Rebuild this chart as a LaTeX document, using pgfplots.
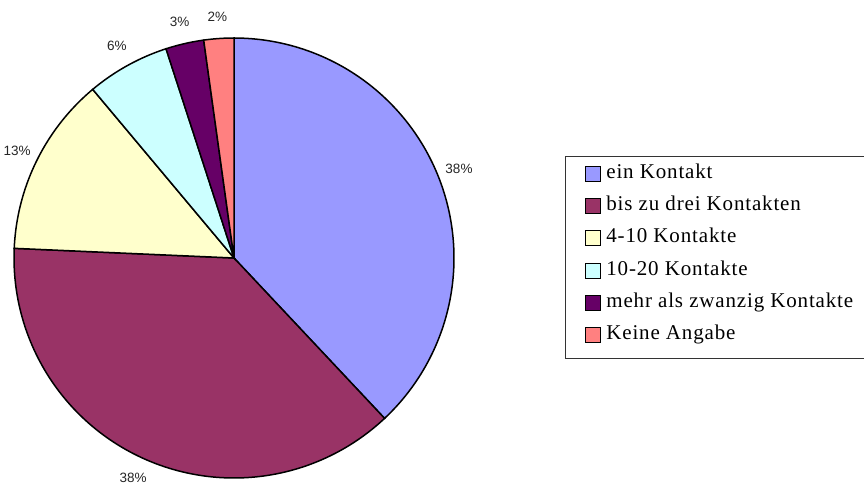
\documentclass[border=0pt]{standalone}
\usepackage{pgfplots}
\pgfplotsset{compat=1.18}
\usepackage{fontspec}
\setmainfont{Liberation Serif}
\newfontfamily\arialfont{Liberation Sans}
\newfontfamily\legfont[LetterSpace=4]{Liberation Serif}
\definecolor{cA}{HTML}{9999FF}
\definecolor{cB}{HTML}{993366}
\definecolor{cC}{HTML}{FFFFCC}
\definecolor{cD}{HTML}{CCFFFF}
\definecolor{cE}{HTML}{660066}
\definecolor{cF}{HTML}{FF8080}
% shares in percent
\def\vA{38.0}\def\vB{37.7}\def\vC{13.2}\def\vD{6.1}\def\vE{2.8}\def\vF{2.2}
\pgfmathsetmacro{\aA}{90}
\pgfmathsetmacro{\aB}{\aA-3.6*\vA}
\pgfmathsetmacro{\aC}{\aB-3.6*\vB}
\pgfmathsetmacro{\aD}{\aC-3.6*\vC}
\pgfmathsetmacro{\aE}{\aD-3.6*\vD}
\pgfmathsetmacro{\aF}{\aE-3.6*\vE}
\pgfmathsetmacro{\aG}{\aF-3.6*\vF}
\pgfmathsetmacro{\mA}{(\aA+\aB)/2}
\pgfmathsetmacro{\mB}{(\aB+\aC)/2}
\pgfmathsetmacro{\mC}{(\aC+\aD)/2}
\pgfmathsetmacro{\mD}{(\aD+\aE)/2}
\pgfmathsetmacro{\mE}{(\aE+\aF)/2}
\pgfmathsetmacro{\mF}{(\aF+\aG)/2}
\def\cx{234}\def\cy{230}\def\R{220}\def\RL{242}
\begin{document}
\begin{tikzpicture}
\begin{axis}[
  width=864pt, height=488pt, scale only axis,
  xmin=0, xmax=864, ymin=0, ymax=488,
  hide axis, clip=false,
  legend image code/.code={\draw[#1, line width=1.2pt] (0pt,-7.5pt) rectangle (15pt,7.5pt);},
  legend style={at={(axis cs:582,327)}, anchor=north west, draw=none, fill=none,
    font=\legfont\fontsize{21}{21}\selectfont,
    row sep=11.3pt, cells={anchor=west},
    nodes={inner sep=1pt, text height=14pt, text depth=5pt},
    /tikz/every odd column/.append style={column sep=4pt}},
]
\addplot[fill=cA, draw=black, line width=1.5pt, domain=\aB:\aA, samples=120, variable=\t]
  ({\cx+\R*cos(\t)},{\cy+\R*sin(\t)}) -- (axis cs:\cx,\cy) -- cycle;
\addlegendentry{ein Kontakt}
\addplot[fill=cB, draw=black, line width=1.5pt, domain=\aC:\aB, samples=120, variable=\t]
  ({\cx+\R*cos(\t)},{\cy+\R*sin(\t)}) -- (axis cs:\cx,\cy) -- cycle;
\addlegendentry{bis zu drei Kontakten}
\addplot[fill=cC, draw=black, line width=1.5pt, domain=\aD:\aC, samples=60, variable=\t]
  ({\cx+\R*cos(\t)},{\cy+\R*sin(\t)}) -- (axis cs:\cx,\cy) -- cycle;
\addlegendentry{4-10 Kontakte}
\addplot[fill=cD, draw=black, line width=1.5pt, domain=\aE:\aD, samples=40, variable=\t]
  ({\cx+\R*cos(\t)},{\cy+\R*sin(\t)}) -- (axis cs:\cx,\cy) -- cycle;
\addlegendentry{10-20 Kontakte}
\addplot[fill=cE, draw=black, line width=1.5pt, domain=\aF:\aE, samples=20, variable=\t]
  ({\cx+\R*cos(\t)},{\cy+\R*sin(\t)}) -- (axis cs:\cx,\cy) -- cycle;
\addlegendentry{mehr als zwanzig Kontakte}
\addplot[fill=cF, draw=black, line width=1.5pt, domain=\aG:\aF, samples=20, variable=\t]
  ({\cx+\R*cos(\t)},{\cy+\R*sin(\t)}) -- (axis cs:\cx,\cy) -- cycle;
\addlegendentry{Keine Angabe}
\begin{scope}[every node/.style={font=\arialfont\fontsize{13.5}{14}\selectfont, text=black!85}]
\node at (axis cs:{\cx+\RL*cos(\mA)},{\cy+\RL*sin(\mA)}) {38\%};
\node at (axis cs:{\cx+\RL*cos(\mB)},{\cy+\RL*sin(\mB)}) {38\%};
\node at (axis cs:{\cx+\RL*cos(\mC)},{\cy+\RL*sin(\mC)}) {13\%};
\node at (axis cs:{\cx+\RL*cos(\mD)},{\cy+\RL*sin(\mD)}) {6\%};
\node at (axis cs:{\cx+\RL*cos(\mE)},{\cy+\RL*sin(\mE)}) {3\%};
\node at (axis cs:{\cx+\RL*cos(\mF)},{\cy+\RL*sin(\mF)}) {2\%};
\end{scope}
\draw[black!80, line width=0.9pt] (axis cs:866,332) -- (axis cs:565,332) -- (axis cs:565,130) -- (axis cs:866,130);
\end{axis}
\pgfresetboundingbox
\path (current axis.south west) rectangle (current axis.north east);
\end{tikzpicture}
\end{document}
